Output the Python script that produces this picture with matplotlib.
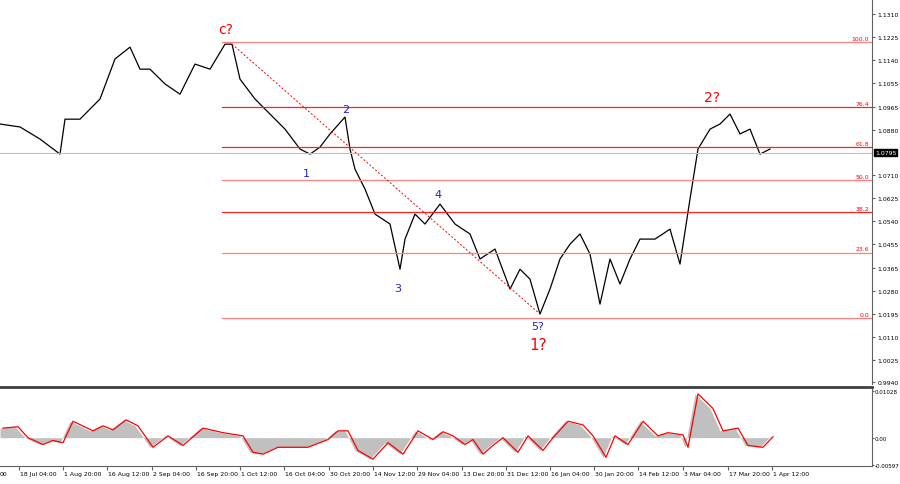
import matplotlib.pyplot as plt
import numpy as np

# bar index (chart x) and close prices
bars = [0, 20, 40, 60, 65, 80, 100, 115, 130, 140, 150, 165, 180, 195, 210, 225, 232, 240, 255, 270,
        285, 300, 310, 320, 330, 345, 350, 355, 365, 375, 390, 400, 405, 415, 425, 440, 455, 470, 480, 495,
        510, 520, 530, 540, 550, 560, 570, 580, 590, 600, 610, 620, 630, 640, 655, 670, 680, 690, 698, 710,
        720, 730, 740, 750, 760, 770]
close = [1.0901, 1.0890, 1.0845, 1.0789, 1.0919, 1.0919, 1.0994, 1.1143, 1.1187, 1.1105, 1.1105, 1.1050,
         1.1012, 1.1124, 1.1105, 1.1198, 1.1198, 1.1068, 1.0994, 1.0938, 1.0882, 1.0808, 1.0789, 1.0815,
         1.0864, 1.0927, 1.0808, 1.0733, 1.0659, 1.0566, 1.0529, 1.0361, 1.0473, 1.0566, 1.0529, 1.0603,
         1.0529, 1.0492, 1.0399, 1.0436, 1.0287, 1.0361, 1.0324, 1.0194, 1.0287, 1.0399, 1.0454, 1.0492,
         1.0417, 1.0231, 1.0399, 1.0306, 1.0399, 1.0473, 1.0473, 1.0510, 1.0380, 1.0622, 1.0808, 1.0882,
         1.0901, 1.0938, 1.0864, 1.0882, 1.0789, 1.0808]

osc_bars = [0, 15, 25, 40, 50, 60, 70, 90, 100, 110, 123, 135, 150, 165, 180, 200, 220, 240, 250, 260,
            275, 290, 305, 325, 335, 345, 355, 370, 385, 400, 415, 430, 440, 450, 462, 470, 480, 490, 500,
            515, 525, 540, 550, 565, 580, 590, 603, 612, 625, 640, 655, 665, 680, 685, 695, 710, 720, 735,
            745, 760, 770]
osc = [0.0021, 0.0024, 0.0000, -0.0015, -0.0006, -0.0011, 0.0036, 0.0015, 0.0026, 0.0017, 0.0039, 0.0026,
       -0.0021, 0.0004, -0.0017, 0.0021, 0.0011, 0.0004, -0.0032, -0.0036, -0.0021, -0.0021, -0.0021,
       -0.0004, 0.0015, 0.0015, -0.0028, -0.0047, -0.0011, -0.0036, 0.0015, -0.0004, 0.0013, 0.0004,
       -0.0015, -0.0004, -0.0036, -0.0017, 0.0000, -0.0032, 0.0004, -0.0028, 0.0000, 0.0036, 0.0028,
       0.0004, -0.0043, 0.0004, -0.0015, 0.0036, 0.0004, 0.0011, 0.0006, -0.0021, 0.0096, 0.0064, 0.0015,
       0.0021, -0.0017, -0.0021, 0.0002]

fib_levels = ["100.0", "76.4", "61.8", "50.0", "38.2", "23.6", "0.0"]
fib_prices = [1.1206, 1.0964, 1.0814, 1.0693, 1.0572, 1.0423, 1.0179]
fib_colors = ["#ff8080", "#ff2020", "#ff2020", "#ff8080", "#ff2020", "#ff8080", "#ff8080"]

price_ticks = [1.1310, 1.1225, 1.1140, 1.1055, 1.0965, 1.0880, 1.0710, 1.0625, 1.0540, 1.0455,
               1.0365, 1.0280, 1.0195, 1.0110, 1.0025, 0.9940]
time_ticks = [19, 63, 107, 152, 196, 240, 284, 329, 373, 417, 462, 506, 550, 594, 638, 683, 728, 772]
time_labels = ["18 Jul 04:00", "1 Aug 20:00", "16 Aug 12:00", "2 Sep 04:00", "16 Sep 20:00", "1 Oct 12:00",
               "16 Oct 04:00", "30 Oct 20:00", "14 Nov 12:00", "29 Nov 04:00", "13 Dec 20:00", "31 Dec 12:00",
               "16 Jan 04:00", "30 Jan 20:00", "14 Feb 12:00", "3 Mar 04:00", "17 Mar 20:00", "1 Apr 12:00"]
last_price = 1.0795

W, H = 900, 485
FS = 4.4
fig = plt.figure(figsize=(9, 4.85), dpi=100)
ax = fig.add_axes([0, 1 - 385 / H, 872 / W, 385 / H])
ax2 = fig.add_axes([0, 1 - 467 / H, 872 / W, 79 / H])

# main price pane
ax.plot(bars, close, color="black", lw=0.9)
ax.axhline(last_price, color="#c0c0c0", lw=0.8)
for lab, p, c in zip(fib_levels, fib_prices, fib_colors):
    ax.plot([222, 872], [p, p], color=c, lw=0.9)
    ax.text(869, p + 0.0005, lab, color="red", fontsize=FS, ha="right", va="bottom")
ax.plot([232, 540], [1.1198, 1.0194], color="red", lw=0.7, ls=(0, (2, 2)))
ax.text(226, 1.1228, "c?", color="red", fontsize=10, ha="center", va="bottom")
ax.text(712, 1.0975, "2?", color="red", fontsize=10, ha="center", va="bottom")
ax.text(538, 1.0080, "1?", color="red", fontsize=11, ha="center", va="center")
for t, x, p in [("2", 346, 1.0955), ("1", 306, 1.0720), ("3", 398, 1.0290),
                ("4", 438, 1.0640), ("5?", 538, 1.0150)]:
    ax.text(x, p, t, color="#2020d0", fontsize=8, ha="center", va="center")

ax.set_xlim(0, 872)
ax.set_ylim(0.9934, 1.1366)
ax.yaxis.tick_right()
ax.set_yticks(price_ticks)
ax.set_yticklabels([f"{v:.4f}" for v in price_ticks], fontsize=FS)
ax.tick_params(axis="y", length=2, pad=2, color="#606060")
ax.set_xticks([])
ax.text(875, last_price, f"{last_price:.4f}", fontsize=FS, color="white", va="center",
        transform=ax.transData, clip_on=False,
        bbox=dict(boxstyle="square,pad=0.15", fc="black", ec="black"))
for s in ["top", "left", "bottom"]:
    ax.spines[s].set_visible(False)
ax.spines["right"].set_color("#606060")

# oscillator pane
ax2.fill_between(osc_bars, osc, 0, color="#c0c0c0", lw=0)
ax2.plot([b + 3 for b in osc_bars], osc, color="red", lw=0.9)
ax2.set_xlim(0, 872)
ax2.set_ylim(-0.0062, 0.0111)
ax2.yaxis.tick_right()
ax2.set_yticks([0.01028, 0.0, -0.00597])
ax2.set_yticklabels(["0.01028", "0.00", "-0.00597"], fontsize=4.1)
ax2.tick_params(axis="y", length=1.5, pad=0.5, color="#606060")
ax2.set_xticks(time_ticks)
ax2.set_xticklabels([])
ax2.tick_params(axis="x", length=3, color="#606060")
for x, lab in zip(time_ticks, time_labels):
    ax2.text(x + 1, -0.0072, lab, fontsize=FS, va="top", ha="left", clip_on=False)
ax2.text(0, -0.0072, "00", fontsize=FS, va="top", ha="left", clip_on=False)
ax2.spines["top"].set_linewidth(2)
ax2.spines["top"].set_color("#404040")
ax2.spines["left"].set_visible(False)
ax2.spines["right"].set_color("#606060")
ax2.spines["bottom"].set_color("#606060")

fig.savefig("out.png", dpi=100)
